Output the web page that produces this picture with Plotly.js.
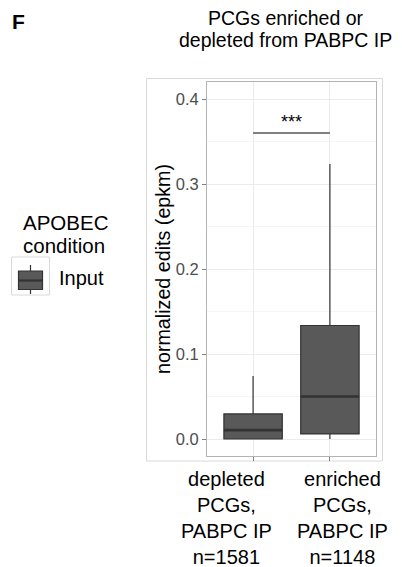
<!DOCTYPE html>
<html>
<head>
<meta charset="utf-8">
<script src="https://cdn.plot.ly/plotly-3.0.1.min.js"></script>
<style>html,body{margin:0;padding:0;background:#fff;}#chart{width:402px;height:567px;}</style>
</head>
<body>
<div id="chart"></div>
<script>
// ---- data ----
const categoryPos = [1, 2];
const categoryLabels = ["depleted<br>PCGs,<br>PABPC IP<br>n=1581", "enriched<br>PCGs,<br>PABPC IP<br>n=1148"];
const lowerWhisker = [0.000, 0.000];
const q1Values = [0.000, 0.006];
const medianValues = [0.0105, 0.050];
const q3Values = [0.0295, 0.1335];
const upperWhisker = [0.074, 0.3235];
const sigPair = [1, 2];
const sigLevel = 0.36;
const sigLabel = "***";
const seriesName = "Input";
const legendTitle = ["APOBEC", "condition"];
const chartTitle = ["PCGs enriched or", "depleted from PABPC IP"];
const yTitle = "normalized edits (epkm)";
const panelTag = "F";

// ---- layout helpers ----
const W = 402, H = 567;
const M = {l: 207, r: 26, t: 82, b: 111};
const PW = W - M.l - M.r, PH = H - M.t - M.b;
const px = x => (x - M.l) / PW;
const py = y => (H - M.b - y) / PH;
const FONT = "Liberation Sans, Arial, sans-serif";
const boxW = 0.76;
const labelShift = [-27, 13];

const boxTrace = {
  type: "box",
  name: seriesName,
  x: categoryPos,
  q1: q1Values, median: medianValues, q3: q3Values,
  lowerfence: lowerWhisker, upperfence: upperWhisker,
  boxpoints: false,
  width: boxW,
  whiskerwidth: 0,
  fillcolor: "#595959",
  line: {color: "#333333", width: 1.2},
  hoverinfo: "skip",
  showlegend: false
};

const medX = [], medY = [];
categoryPos.forEach((c, i) => { medX.push(c - boxW / 2, c + boxW / 2, null); medY.push(medianValues[i], medianValues[i], null); });
const medianTrace = {type: "scatter", mode: "lines", x: medX, y: medY, line: {color: "#333333", width: 2.6}, hoverinfo: "skip", showlegend: false};

const sigTrace = {type: "scatter", mode: "lines", x: sigPair, y: [sigLevel, sigLevel], line: {color: "#000000", width: 1}, hoverinfo: "skip", showlegend: false};

const greyLine = "#D9D9D9";
const shapes = [
  {type: "rect", xref: "paper", yref: "paper", x0: px(146.5), x1: px(382.5), y0: py(461), y1: py(78.5), line: {color: greyLine, width: 1}, layer: "below"},
  {type: "rect", xref: "paper", yref: "paper", x0: px(11.5), x1: px(49.5), y0: py(295), y1: py(257), line: {color: greyLine, width: 1}},
  {type: "line", xref: "paper", yref: "paper", x0: px(30.5), x1: px(30.5), y0: py(271), y1: py(265), line: {color: "#333333", width: 1.2}},
  {type: "line", xref: "paper", yref: "paper", x0: px(30.5), x1: px(30.5), y0: py(294), y1: py(289.5), line: {color: "#333333", width: 1.2}},
  {type: "rect", xref: "paper", yref: "paper", x0: px(18.5), x1: px(42.5), y0: py(289.5), y1: py(271), fillcolor: "#595959", line: {color: "#333333", width: 1.2}},
  {type: "line", xref: "paper", yref: "paper", x0: px(18.5), x1: px(42.5), y0: py(280.5), y1: py(280.5), line: {color: "#333333", width: 2.2}}
];

const ann = (text, x, y, opts) => Object.assign({text, xref: "paper", yref: "paper", x: px(x), y: py(y), showarrow: false, font: {family: FONT, size: 19.5, color: "#000"}}, opts);
const annotations = [
  ann(chartTitle[0], 285.5, 17.8, {xanchor: "center", yanchor: "middle"}),
  ann(chartTitle[1], 285.5, 39.8, {xanchor: "center", yanchor: "middle"}),
  ann("<b>" + panelTag + "</b>", 10, 21, {xanchor: "left", yanchor: "middle", font: {family: FONT, size: 21, color: "#000"}}),
  ann(legendTitle[0], 21, 222.5, {xanchor: "left", yanchor: "middle", font: {family: FONT, size: 20.5, color: "#000"}}),
  ann(legendTitle[1], 21, 245.5, {xanchor: "left", yanchor: "middle", font: {family: FONT, size: 20.5, color: "#000"}}),
  ann(seriesName, 57, 277.5, {xanchor: "left", yanchor: "middle", font: {family: FONT, size: 20, color: "#000"}}),
  ann(yTitle, 163, 269, {xanchor: "center", yanchor: "middle", textangle: -90, font: {family: FONT, size: 19.7, color: "#000"}}),
  {text: sigLabel, x: (sigPair[0] + sigPair[1]) / 2, y: sigLevel, xref: "x", yref: "y", showarrow: false, xanchor: "center", yanchor: "bottom", yshift: -1, font: {family: FONT, size: 18, color: "#000"}}
];
// category labels below the axis (spread as in the reference)
categoryPos.forEach((c, i) => annotations.push({
  text: categoryLabels[i], x: c, y: 0, xref: "x", yref: "paper", showarrow: false,
  xanchor: "center", yanchor: "top", xshift: labelShift[i], yshift: -10, align: "center",
  font: {family: FONT, size: 20, color: "#000"}
}));

const layout = {
  width: W, height: H,
  margin: M,
  paper_bgcolor: "#ffffff", plot_bgcolor: "#ffffff",
  showlegend: false,
  font: {family: FONT},
  xaxis: {
    range: [0.4, 2.6], tickmode: "array", tickvals: categoryPos, showticklabels: false,
    showgrid: true, gridcolor: "#EBEBEB", gridwidth: 1, zeroline: false,
    showline: true, mirror: true, linecolor: "#B3B3B3", linewidth: 1,
    ticks: "outside", ticklen: 4, tickcolor: "#7F7F7F", tickwidth: 1, fixedrange: true
  },
  yaxis: {
    range: [-0.02, 0.42], tick0: 0, dtick: 0.1, tickformat: ".1f",
    showgrid: true, gridcolor: "#EBEBEB", gridwidth: 1, zeroline: false,
    minor: {tick0: 0, dtick: 0.05, showgrid: true, gridcolor: "#F5F5F5", gridwidth: 1, ticks: ""},
    showline: true, mirror: true, linecolor: "#B3B3B3", linewidth: 1,
    ticks: "outside", ticklen: 4, tickcolor: "#7F7F7F", tickwidth: 1,
    tickfont: {family: FONT, size: 16.5, color: "#4D4D4D"}, fixedrange: true
  },
  shapes, annotations
};

Plotly.newPlot("chart", [boxTrace, medianTrace, sigTrace], layout, {staticPlot: true, displayModeBar: false});
</script>
</body>
</html>
